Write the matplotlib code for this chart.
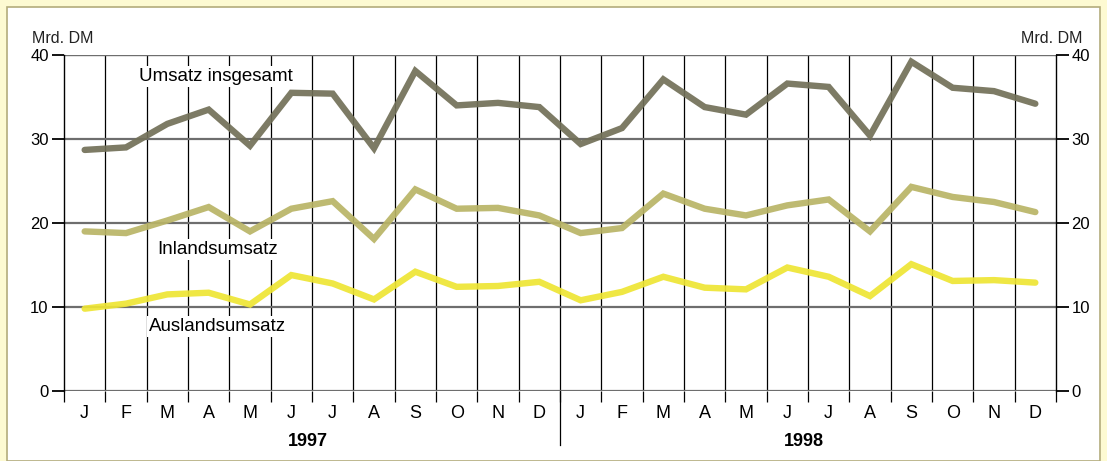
import matplotlib
matplotlib.use("Agg")
import matplotlib.pyplot as plt
from matplotlib.patches import Rectangle

plt.rcParams['font.family'] = ['Liberation Sans', 'DejaVu Sans']

months = ["J", "F", "M", "A", "M", "J", "J", "A", "S", "O", "N", "D"] * 2
years = ["1997", "1998"]

umsatz = [28.7, 29.0, 31.8, 33.5, 29.2, 35.5, 35.4, 28.9, 38.1, 34.0, 34.3, 33.8,
          29.4, 31.3, 37.1, 33.8, 32.9, 36.6, 36.2, 30.4, 39.2, 36.1, 35.7, 34.2]
inland = [19.0, 18.8, 20.3, 21.9, 19.0, 21.7, 22.6, 18.1, 24.0, 21.7, 21.8, 20.9,
          18.8, 19.4, 23.5, 21.7, 20.9, 22.1, 22.8, 19.0, 24.3, 23.1, 22.5, 21.3]
ausland = [9.8, 10.4, 11.5, 11.7, 10.3, 13.8, 12.8, 10.9, 14.2, 12.4, 12.5, 13.0,
           10.8, 11.8, 13.6, 12.3, 12.1, 14.7, 13.6, 11.3, 15.1, 13.1, 13.2, 12.9]
yticks = [0, 10, 20, 30, 40]

W, H = 1107, 461
fig = plt.figure(figsize=(W / 100, H / 100), dpi=100, facecolor="#fdfad2")
fig.patches.append(Rectangle((7 / W, 0), 1093 / W, 454 / H, transform=fig.transFigure,
                             facecolor="white", edgecolor="#b3ac7c", linewidth=1.2,
                             zorder=-5))

ax = fig.add_axes([64 / W, (H - 391) / H, 992 / W, 336 / H])
ax.set_facecolor("white")
ax.set_xlim(0, 24)
ax.set_ylim(0, 40)

# month boundaries as vertical grid, horizontal grid in grey
for i in range(1, 24):
    ax.axvline(i, color="black", lw=0.9, zorder=1)
for v in yticks:
    ax.axhline(v, color="#6e6e6e", lw=1.6 if v < 40 else 1.0, zorder=1)

for s in ["left", "right"]:
    ax.spines[s].set_color("black")
    ax.spines[s].set_linewidth(1.0)
for s in ["top", "bottom"]:
    ax.spines[s].set_visible(False)

ax.set_xticks(range(25))
ax.set_xticklabels([])
ax.tick_params(axis="x", which="major", direction="out", length=8, width=0.9, color="black")
ax.set_xticks([i + 0.5 for i in range(24)], minor=True)
ax.set_xticklabels(months, minor=True, fontsize=13)
ax.tick_params(axis="x", which="minor", length=0, pad=10)

ax.set_yticks(yticks)
ax.tick_params(axis="y", which="both", direction="out", length=9, width=1.3,
               labelsize=12, left=True, right=True, labelleft=True, labelright=True, pad=2)

xs = [i + 0.5 for i in range(24)]
kw = dict(lw=4.6, alpha=0.92, solid_capstyle="round", solid_joinstyle="miter", zorder=3)
ax.plot(xs, umsatz, color="#727058", **kw)
ax.plot(xs, inland, color="#b9b466", **kw)
ax.plot(xs, ausland, color="#eee534", **kw)

box = dict(facecolor="white", edgecolor="none", pad=1.5)
ax.text(1.82, 37.4, "Umsatz insgesamt", fontsize=13.5, va="center", bbox=box, zorder=4)
ax.text(2.25, 16.8, "Inlandsumsatz", fontsize=13.5, va="center", bbox=box, zorder=4)
ax.text(2.05, 7.7, "Auslandsumsatz", fontsize=13.5, va="center", bbox=box, zorder=4)

# year divider and year labels
ax.plot([12, 12], [0, -6.4], color="black", lw=0.9, clip_on=False)
for k, yr in enumerate(years):
    ax.text(6 + 12 * k - 0.1, -6.0, yr, fontsize=13, fontweight="bold",
            ha="center", va="center", clip_on=False)

ax.text(-0.78, 42.0, "Mrd. DM", fontsize=11.5, ha="left", va="center", color="#222222")
ax.text(24.65, 42.0, "Mrd. DM", fontsize=11.5, ha="right", va="center", color="#222222")

fig.savefig("out.png", dpi=100, facecolor=fig.get_facecolor())
